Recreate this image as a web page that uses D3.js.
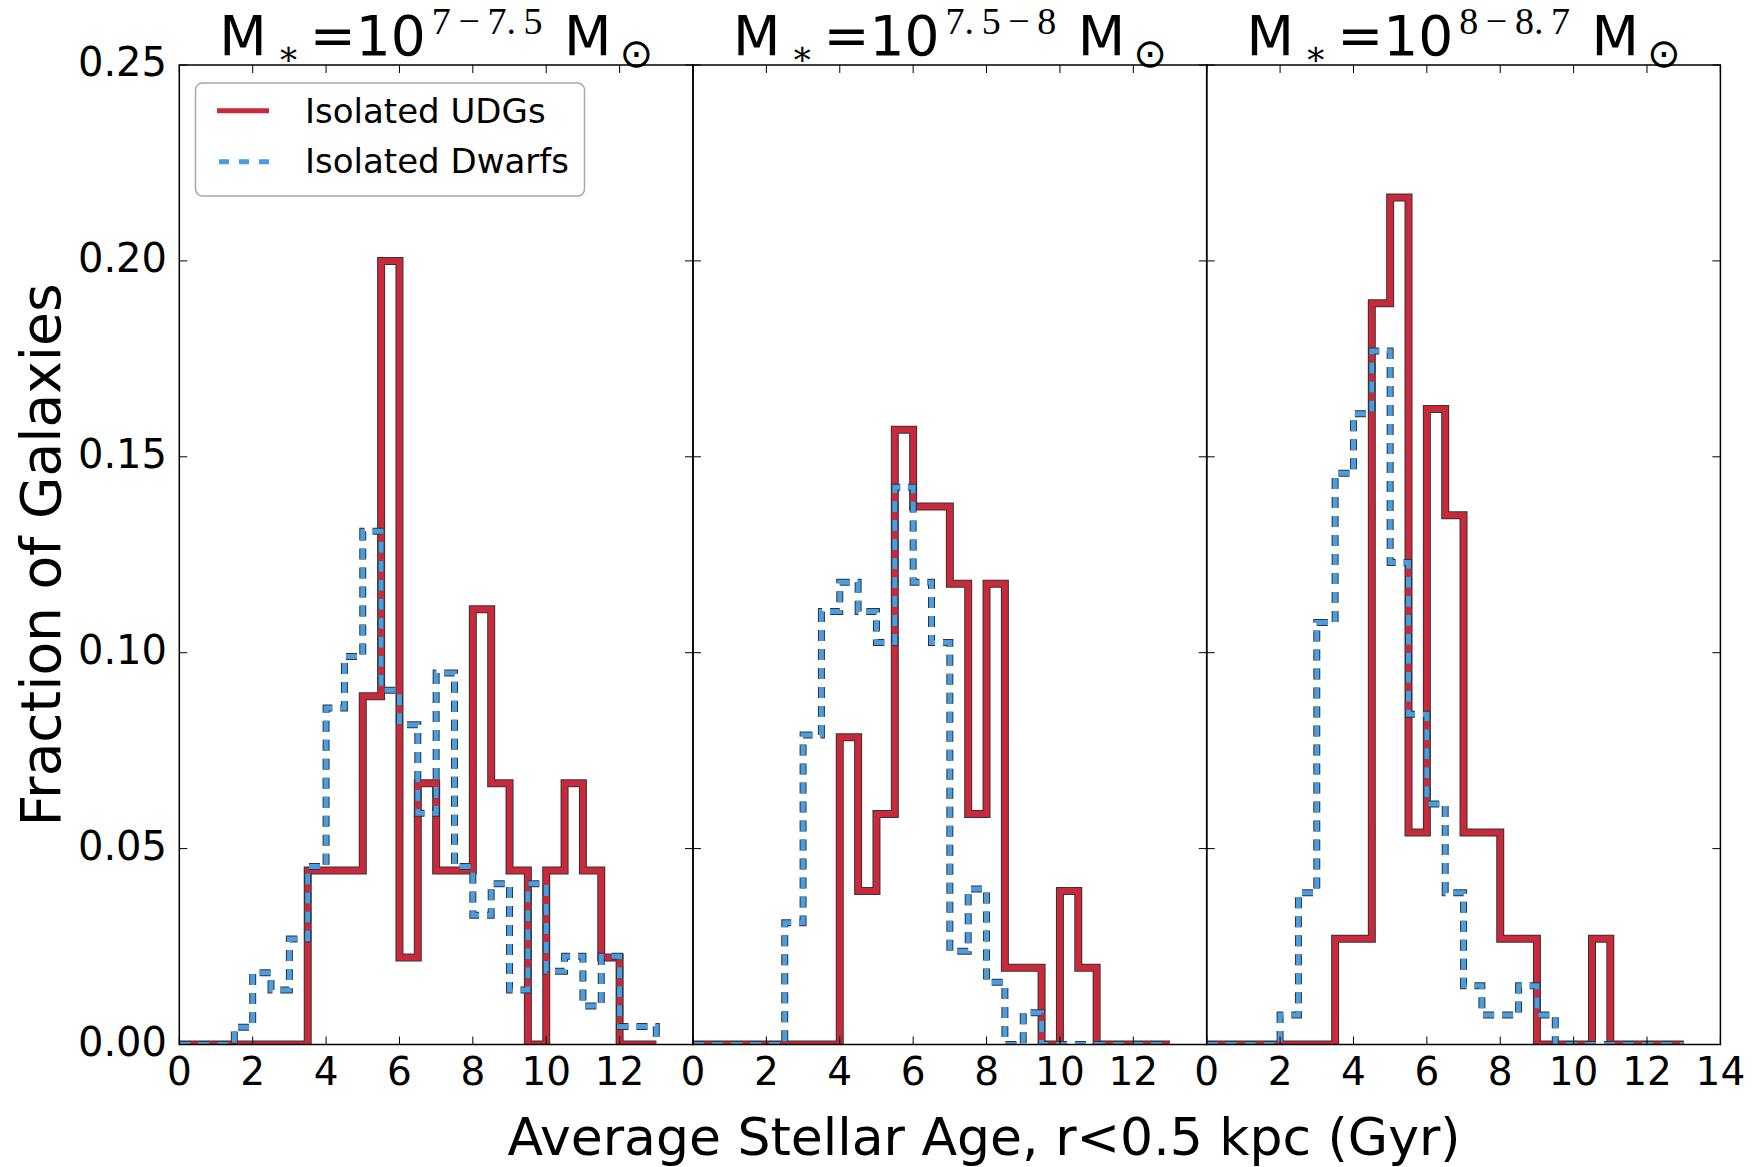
<!DOCTYPE html>
<html>
<head>
<meta charset="utf-8">
<script src="https://cdn.jsdelivr.net/npm/d3@7/dist/d3.min.js"></script>
<style>
	body { margin: 0; background: #fff; }
	text { font-family: "DejaVu Sans", sans-serif; fill: #000; }
</style>
</head>
<body>
<div id="chart"></div>
<script>
/* global d3 */

// bin edges shared by every histogram (Gyr)
var binEdges = [0, 0.5, 1, 1.5, 2, 2.5, 3, 3.5, 4, 4.5, 5, 5.5, 6, 6.5, 7, 7.5, 8, 8.5, 9, 9.5, 10, 10.5, 11, 11.5, 12, 12.5, 13];

// M* = 10^(7-7.5)
var udgLow   = [0, 0, 0, 0, 0, 0, 0, 0.0444, 0.0444, 0.0444, 0.0889, 0.2000, 0.0222, 0.0667, 0.0444, 0.0444, 0.1111, 0.0667, 0.0444, 0, 0.0444, 0.0667, 0.0444, 0.0222, 0, 0];
var dwarfLow = [0, 0, 0, 0.0044, 0.0183, 0.0139, 0.0269, 0.0454, 0.0859, 0.0990, 0.1310, 0.0904, 0.0816, 0.0590, 0.0948, 0.0454, 0.0330, 0.0410, 0.0139, 0.0410, 0.0187, 0.0225, 0.0098, 0.0225, 0.0046, 0.0046];

// M* = 10^(7.5-8)
var udgMid   = [0, 0, 0, 0, 0, 0, 0, 0, 0.0784, 0.0392, 0.0588, 0.1569, 0.1373, 0.1373, 0.1176, 0.0588, 0.1176, 0.0196, 0.0196, 0, 0.0392, 0.0196, 0, 0, 0, 0];
var dwarfMid = [0, 0, 0, 0, 0, 0.0311, 0.0790, 0.1105, 0.1180, 0.1105, 0.1026, 0.1422, 0.1180, 0.1026, 0.0238, 0.0397, 0.0159, 0, 0.0081, 0, 0, 0, 0, 0, 0, 0];

// M* = 10^(8-8.7)
var udgHigh   = [0, 0, 0, 0, 0, 0, 0, 0.0270, 0.0270, 0.1892, 0.2162, 0.0541, 0.1622, 0.1351, 0.0541, 0.0541, 0.0270, 0.0270, 0, 0, 0, 0.0270, 0, 0, 0, 0];
var dwarfHigh = [0, 0, 0, 0, 0.0075, 0.0387, 0.1077, 0.1458, 0.1610, 0.1770, 0.1230, 0.0843, 0.0614, 0.0387, 0.0150, 0.0075, 0.0075, 0.0150, 0.0075, 0, 0, 0, 0, 0, 0, 0];

var panelExponents = ['7\u2009\u2212\u20097.\u20095', '7.\u20095\u2009\u2212\u20098', '8\u2009\u2212\u20098.\u20097'];
var seriesNames = ['Isolated UDGs', 'Isolated Dwarfs'];
var yTicks = [0, 0.05, 0.10, 0.15, 0.20, 0.25];
var xTicks = [0, 2, 4, 6, 8, 10, 12, 14];
var xTickLabels = [
	[0, 2, 4, 6, 8, 10, 12],
	[0, 2, 4, 6, 8, 10, 12],
	[0, 2, 4, 6, 8, 10, 12, 14]
];

(function () {
	'use strict';

	var panels = [
		{ udg: udgLow,  dwarf: dwarfLow,  exp: panelExponents[0], labels: xTickLabels[0] },
		{ udg: udgMid,  dwarf: dwarfMid,  exp: panelExponents[1], labels: xTickLabels[1] },
		{ udg: udgHigh, dwarf: dwarfHigh, exp: panelExponents[2], labels: xTickLabels[2] }
	];

	var colors = { udg: '#c9293a', dwarf: '#4b9de2', edge: '#333333' };

	var figW = 1752, figH = 1167;
	var plotLeft = 179.3, panelW = 513.7, plotTop = 65, plotBottom = 1044.5;
	var tickLen = 8;

	var svg = d3.select('#chart').append('svg')
		.attr('width', figW)
		.attr('height', figH)
		.style('background', '#fff');

	var y = d3.scaleLinear().domain([0, 0.25]).range([plotBottom, plotTop]);

	function stepPoints (vals) {
		var pts = [[binEdges[0], 0]];
		vals.forEach(function (v, i) { pts.push([binEdges[i], v]); });
		pts.push([binEdges[binEdges.length - 1], vals[vals.length - 1]]);
		pts.push([binEdges[binEdges.length - 1], 0]);
		return pts;
	}

	panels.forEach(function (p, i) {
		var x0 = plotLeft + i * panelW;
		var x = d3.scaleLinear().domain([0, 14]).range([x0, x0 + panelW]);
		var line = d3.line()
			.curve(d3.curveStepAfter)
			.x(function (d) { return x(d[0]); })
			.y(function (d) { return y(d[1]); });

		var clipId = 'clip' + i;
		svg.append('clipPath').attr('id', clipId)
			.append('rect')
				.attr('x', x0).attr('y', plotTop)
				.attr('width', panelW).attr('height', plotBottom - plotTop);

		var g = svg.append('g').attr('clip-path', 'url(#' + clipId + ')');

		// UDGs: solid red with dark edge
		g.append('path').attr('d', line(stepPoints(p.udg)))
			.attr('fill', 'none').attr('stroke', colors.edge).attr('stroke-width', 8);
		g.append('path').attr('d', line(stepPoints(p.udg)))
			.attr('fill', 'none').attr('stroke', colors.udg).attr('stroke-width', 6);

		// dwarfs: dashed blue with dark edge
		g.append('path').attr('d', line(stepPoints(p.dwarf)))
			.attr('fill', 'none').attr('stroke', colors.edge).attr('stroke-width', 7)
			.attr('stroke-dasharray', '11,8');
		g.append('path').attr('d', line(stepPoints(p.dwarf)))
			.attr('fill', 'none').attr('stroke', colors.dwarf).attr('stroke-width', 5)
			.attr('stroke-dasharray', '11,8');

		// ticks, inside on all four sides
		var ticks = svg.append('g').attr('stroke', '#000').attr('stroke-width', 1);
		xTicks.forEach(function (t) {
			ticks.append('line').attr('x1', x(t)).attr('x2', x(t)).attr('y1', plotBottom).attr('y2', plotBottom - tickLen);
			ticks.append('line').attr('x1', x(t)).attr('x2', x(t)).attr('y1', plotTop).attr('y2', plotTop + tickLen);
		});
		yTicks.forEach(function (t) {
			ticks.append('line').attr('x1', x0).attr('x2', x0 + tickLen).attr('y1', y(t)).attr('y2', y(t));
			ticks.append('line').attr('x1', x0 + panelW).attr('x2', x0 + panelW - tickLen).attr('y1', y(t)).attr('y2', y(t));
		});

		svg.append('rect')
			.attr('x', x0).attr('y', plotTop)
			.attr('width', panelW).attr('height', plotBottom - plotTop)
			.attr('fill', 'none').attr('stroke', '#000').attr('stroke-width', 1.5);

		svg.append('g').selectAll('text')
			.data(p.labels)
			.enter().append('text')
				.attr('x', function (d) { return x(d); })
				.attr('y', plotBottom + 40)
				.attr('text-anchor', 'middle')
				.style('font-size', '39px')
				.text(function (d) { return d; });

		// title: M_* = 10^{exp} M_sun
		var title = svg.append('text')
			.attr('x', x0 + panelW / 2)
			.attr('y', 55)
			.attr('text-anchor', 'middle')
			.style('font-size', '55px');
		title.append('tspan').text('M');
		title.append('tspan').attr('dx', 10).attr('dy', 10)
			.style('font-family', '"DejaVu Serif", serif').style('font-size', '34px').text('\u2217');
		title.append('tspan').attr('dx', 10).attr('dy', -10).text('=10');
		title.append('tspan').attr('dx', 6).attr('dy', -21)
			.style('font-family', '"Liberation Serif", serif').style('font-size', '38px').text(p.exp);
		title.append('tspan').attr('dx', 4).attr('dy', 21).text(' M');
		title.append('tspan').attr('dx', 8).attr('dy', 12)
			.style('font-family', '"DejaVu Sans", sans-serif').style('font-size', '40px').text('\u2299');
	});

	// y tick labels on the first panel only
	svg.append('g').selectAll('text')
		.data(yTicks)
		.enter().append('text')
			.attr('x', 167)
			.attr('y', function (d) { return y(d) + 11; })
			.attr('text-anchor', 'end')
			.style('font-size', '40px')
			.text(function (d) { return d3.format('.2f')(d); });

	svg.append('text')
		.attr('transform', 'translate(60,555) rotate(-90)')
		.attr('text-anchor', 'middle')
		.style('font-size', '55px')
		.text('Fraction of Galaxies');

	svg.append('text')
		.attr('x', 984)
		.attr('y', 1155)
		.attr('text-anchor', 'middle')
		.style('font-size', '52px')
		.text('Average Stellar Age, r<0.5 kpc (Gyr)');

	// legend
	var legend = svg.append('g').attr('class', 'legend');
	legend.append('rect')
		.attr('x', 195.5).attr('y', 83)
		.attr('width', 389).attr('height', 113)
		.attr('rx', 7)
		.attr('fill', '#fff').attr('stroke', '#a8a8a8').attr('stroke-width', 1.5);
	legend.append('line')
		.attr('x1', 217).attr('x2', 269).attr('y1', 110.7).attr('y2', 110.7)
		.attr('stroke', colors.udg).attr('stroke-width', 5);
	legend.append('line')
		.attr('x1', 219).attr('x2', 269).attr('y1', 161.7).attr('y2', 161.7)
		.attr('stroke', colors.dwarf).attr('stroke-width', 5).attr('stroke-dasharray', '10,10');
	legend.selectAll('.desc')
		.data(seriesNames)
		.enter().append('text')
			.attr('class', 'desc')
			.attr('x', 305)
			.attr('y', function (d, i) { return 122.7 + i * 50.6; })
			.style('font-size', '34px')
			.text(function (d) { return d; });
})();
</script>
</body>
</html>
